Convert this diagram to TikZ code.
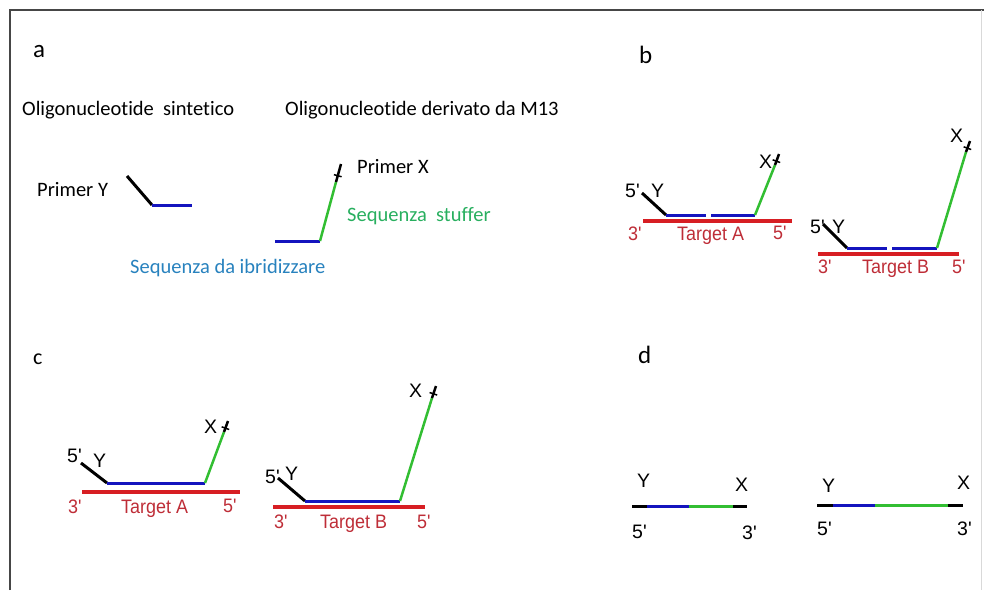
\documentclass[tikz,border=0pt]{standalone}
\usepackage{fontspec}
\setmainfont[Ligatures={NoCommon}]{Carlito}
\newfontfamily\arialf{Liberation Sans}
\newfontfamily\arialc[FakeStretch=0.92]{Liberation Sans}
\usetikzlibrary{calc}
\definecolor{dnablue}{RGB}{20,20,190}
\definecolor{dnagreen}{RGB}{50,190,50}
\definecolor{dnared}{RGB}{215,30,35}
\definecolor{lblred}{RGB}{190,45,55}
\definecolor{stuffgreen}{RGB}{40,175,95}
\definecolor{ibrblue}{RGB}{40,130,190}
\definecolor{framegray}{RGB}{70,70,70}
\tikzset{
  cal/.style={inner sep=0pt, anchor=base west, font=\fontsize{20.5}{23}\selectfont},
  panel/.style={inner sep=0pt, anchor=base west, font=\fontsize{25}{28}\selectfont},
  lbl/.style={inner sep=0pt, anchor=base west, font=\arialf\fontsize{19.5}{22}\selectfont},
  tlbl/.style={inner sep=0pt, anchor=base west, text=lblred, font=\arialc\fontsize{19.5}{22}\selectfont},
  blk/.style={draw=black, line width=3pt},
  blu/.style={draw=dnablue, line width=3pt},
  grn/.style={draw=dnagreen, line width=2.5pt},
  tgt/.style={draw=dnared, line width=3.5pt},
  tick/.style={draw=black, line width=1.5pt}
}
\newcommand{\xtip}[3]{% #1 green start, #2 green end, #3 black end
  \draw[grn] (#1) -- (#2);
  \draw[blk, line width=2.5pt] (#2) -- (#3);
  \coordinate (tk) at ($(#2)!0.35!(#3)$);
  \draw[tick] ($(tk)!4pt!90:(#3)$) -- ($(tk)!4pt!-90:(#3)$);
}
\begin{document}
\begin{tikzpicture}[x=1pt,y=-1pt]
\useasboundingbox (0,0) rectangle (984,590);
% frame
\draw[framegray, line width=1.5pt] (10,590) -- (10,10) -- (984,10);
\draw[black!15, line width=0.8pt] (981,10) -- (981,590);

% ---------- panel a ----------
\node[panel] (la) at (33,57) {a};
\node[cal] (t1) at (22,115) {Oligonucleotide\ \ sintetico};
\node[cal] (t2) at (285,115) {Oligonucleotide derivato da M13};
\node[cal] (py) at (37,196) {Primer Y};
\node[cal] (px) at (357,173) {Primer X};
\node[cal, text=stuffgreen] (ss) at (347,221) {Sequenza\ \ stuffer};
\node[cal, text=ibrblue] (si) at (130,273) {Sequenza da ibridizzare};
\coordinate (aY1) at (127,176); \coordinate (aY2) at (152,205); \coordinate (aY3) at (192,205);
\draw[blk] (aY1) -- (aY2);
\draw[blu] (aY2) -- (aY3);
\coordinate (aX1) at (275,241); \coordinate (aX2) at (320,241);
\coordinate (aX3) at (336,182); \coordinate (aX4) at (341,164);
\draw[blu] (aX1) -- (aX2);
\xtip{aX2}{aX3}{aX4}

% ---------- panel b ----------
\node[panel] (lb) at (639,63) {b};
% target A
\node[lbl] (b5a) at (625,197) {5\textquotesingle};
\node[lbl] (bya) at (651,197) {Y};
\node[lbl] (bxa) at (759,168) {X};
\node[tlbl] (b3a) at (628,240) {3\textquotesingle};
\node[tlbl] (bta) at (677,240) {Target A};
\node[tlbl] (b5ra) at (773,239) {5\textquotesingle};
\coordinate (bA1) at (642,193); \coordinate (bA2) at (666,215);
\coordinate (bA3) at (706,215); \coordinate (bA4) at (711,215);
\coordinate (bA5) at (755,215); \coordinate (bA6) at (775,165); \coordinate (bA7) at (779,154);
\coordinate (bR1) at (643,221); \coordinate (bR2) at (792,221);
\draw[tgt] (bR1) -- (bR2);
\draw[blk] (bA1) -- (bA2);
\draw[blu] (bA2) -- (bA3);
\draw[blu] (bA4) -- (bA5);
\xtip{bA5}{bA6}{bA7}
% target B
\node[lbl] (b5b) at (810,233) {5\textquotesingle};
\node[lbl] (byb) at (832,233) {Y};
\node[lbl] (bxb) at (950,142) {X};
\node[tlbl] (b3b) at (818,273) {3\textquotesingle};
\node[tlbl] (btb) at (862,273) {Target B};
\node[tlbl] (b5rb) at (952,273) {5\textquotesingle};
\coordinate (bB1) at (823,224); \coordinate (bB2) at (847,248);
\coordinate (bB3) at (887,248); \coordinate (bB4) at (892,248);
\coordinate (bB5) at (937,248); \coordinate (bB6) at (966,152); \coordinate (bB7) at (970,141);
\coordinate (bS1) at (818,254); \coordinate (bS2) at (959,254);
\draw[tgt] (bS1) -- (bS2);
\draw[blk] (bB1) -- (bB2);
\draw[blu] (bB2) -- (bB3);
\draw[blu] (bB4) -- (bB5);
\xtip{bB5}{bB6}{bB7}

% ---------- panel c ----------
\node[panel, font=\fontsize{22}{24}\selectfont] (lc) at (33,364) {c};
% target A
\node[lbl] (c5a) at (67,462) {5\textquotesingle};
\node[lbl] (cya) at (93,467) {Y};
\node[lbl] (cxa) at (204,433) {X};
\node[tlbl] (c3a) at (68,513) {3\textquotesingle};
\node[tlbl] (cta) at (121,513) {Target A};
\node[tlbl] (c5ra) at (223,512) {5\textquotesingle};
\coordinate (cA1) at (81,463); \coordinate (cA2) at (107,483);
\coordinate (cA3) at (205,483); \coordinate (cA4) at (224,432); \coordinate (cA5) at (228,421);
\coordinate (cR1) at (82,492); \coordinate (cR2) at (240,492);
\draw[tgt] (cR1) -- (cR2);
\draw[blk] (cA1) -- (cA2);
\draw[blu] (cA2) -- (cA3);
\xtip{cA3}{cA4}{cA5}
% target B
\node[lbl] (c5b) at (265,483) {5\textquotesingle};
\node[lbl] (cyb) at (285,480) {Y};
\node[lbl] (cxb) at (409,397) {X};
\node[tlbl] (c3b) at (274,528) {3\textquotesingle};
\node[tlbl] (ctb) at (320,528) {Target B};
\node[tlbl] (c5rb) at (417,528) {5\textquotesingle};
\coordinate (cB1) at (278,478); \coordinate (cB2) at (305,501);
\coordinate (cB3) at (400,501); \coordinate (cB4) at (432,398); \coordinate (cB5) at (436,386);
\coordinate (cS1) at (273,507); \coordinate (cS2) at (425,507);
\draw[tgt] (cS1) -- (cS2);
\draw[blk] (cB1) -- (cB2);
\draw[blu] (cB2) -- (cB3);
\xtip{cB3}{cB4}{cB5}

% ---------- panel d ----------
\node[panel] (ld) at (638,363) {d};
\node[lbl] (dy1) at (637,487) {Y};
\node[lbl] (dx1) at (735,491) {X};
\node[lbl] (d51) at (632,538) {5\textquotesingle};
\node[lbl] (d31) at (742,539) {3\textquotesingle};
\coordinate (d1a) at (632,506); \coordinate (d1b) at (647,506);
\coordinate (d1c) at (689,506); \coordinate (d1d) at (733,506); \coordinate (d1e) at (747,506);
\draw[blk] (d1a) -- (d1b);
\draw[blu] (d1b) -- (d1c);
\draw[grn, line width=3pt] (d1c) -- (d1d);
\draw[blk] (d1d) -- (d1e);
\node[lbl] (dy2) at (822,492) {Y};
\node[lbl] (dx2) at (957,489) {X};
\node[lbl] (d52) at (817,535) {5\textquotesingle};
\node[lbl] (d32) at (957,535) {3\textquotesingle};
\coordinate (d2a) at (817,505); \coordinate (d2b) at (833,505);
\coordinate (d2c) at (875,505); \coordinate (d2d) at (948,505); \coordinate (d2e) at (963,505);
\draw[blk] (d2a) -- (d2b);
\draw[blu] (d2b) -- (d2c);
\draw[grn, line width=3pt] (d2c) -- (d2d);
\draw[blk] (d2d) -- (d2e);
\end{tikzpicture}
\end{document}
